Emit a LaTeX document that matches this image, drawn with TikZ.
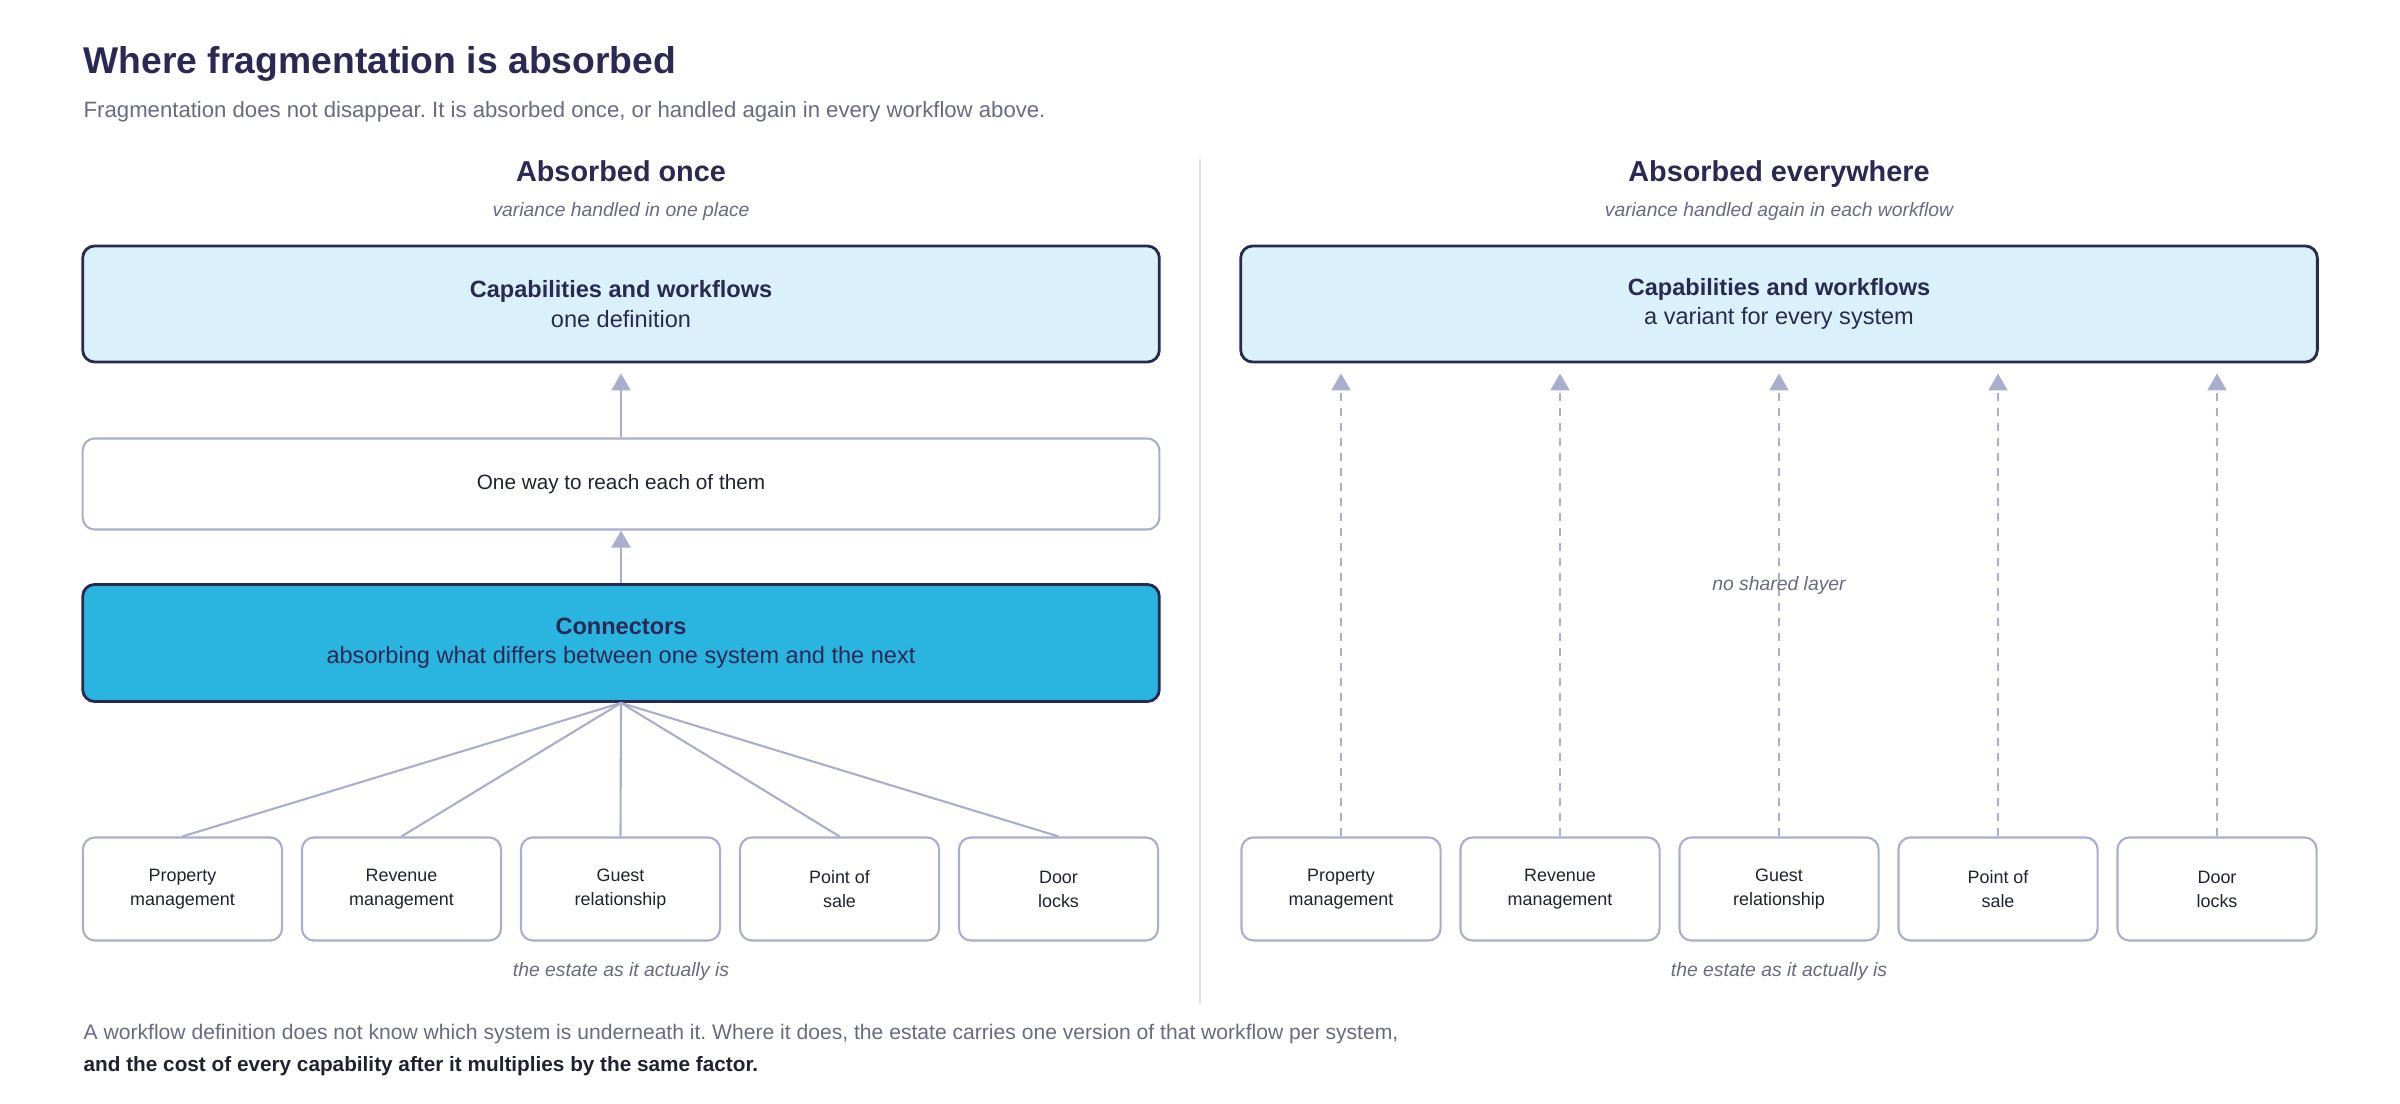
\documentclass[tikz,border=0pt]{standalone}
\usepackage{fontspec}
\setmainfont{Liberation Sans}
\usetikzlibrary{arrows.meta}
\definecolor{navy}{RGB}{42,41,84}
\definecolor{muted}{RGB}{104,106,132}
\definecolor{lav}{RGB}{170,174,206}
\definecolor{pale}{RGB}{218,241,251}
\definecolor{conncol}{RGB}{41,181,224}
\definecolor{ink}{RGB}{31,34,48}
\definecolor{rulecol}{RGB}{226,226,233}
\frenchspacing
\begin{document}
\begin{tikzpicture}[x=0.01cm,y=-0.01cm,
    every node/.style={inner sep=0pt},
    tier/.style={draw=navy,line width=0.8pt,rounded corners=0.12cm,minimum width=10.76cm,align=center,text=navy,font=\fontsize{6.7}{8.3}\selectfont},
    waybox/.style={draw=lav,line width=0.6pt,rounded corners=0.12cm,minimum width=10.76cm,minimum height=0.91cm,text=ink,font=\fontsize{5.9}{7}\selectfont},
    sys/.style={draw=lav,line width=0.6pt,rounded corners=0.12cm,minimum width=1.99cm,minimum height=1.03cm,align=center,text=ink,font=\fontsize{5.1}{6.8}\selectfont},
    wire/.style={draw=lav,line width=0.6pt},
    lift/.style={wire,-{Triangle[width=0.19cm,length=0.17cm]}},
    dashline/.style={dash pattern=on 0.08cm off 0.07cm},
    colhead/.style={anchor=base,text=navy,font=\fontsize{8.2}{9.8}\selectfont\bfseries},
    note/.style={anchor=base,text=muted,font=\fontsize{5.5}{6.6}\selectfont\itshape}]
    \useasboundingbox (0,0) rectangle (2400,1104);

    \node[anchor=base west,text=navy,font=\fontsize{10.6}{12.7}\selectfont\bfseries] (title) at (83,74) {Where fragmentation is absorbed};
    \node[anchor=base west,text=muted,font=\fontsize{6.3}{7.6}\selectfont] (sub) at (83,118) {Fragmentation does not disappear. It is absorbed once, or handled again in every workflow above.};

    \draw[rulecol,line width=0.4pt] (1200,159) -- (1200,1004);

    \node[colhead] (lhead) at (621,182) {Absorbed once};
    \node[note] (lnote) at (621,217) {variance handled in one place};
    \node[colhead] (rhead) at (1779,182) {Absorbed everywhere};
    \node[note] (rnote) at (1779,217) {variance handled again in each workflow};

    \node[tier,fill=pale,minimum height=1.16cm] (lcap) at (621,304) {\textbf{Capabilities and workflows}\\one definition};
    \node[waybox] (lway) at (621,484) {One way to reach each of them};
    \node[tier,fill=conncol,minimum height=1.17cm] (lconn) at (621,643) {\textbf{Connectors}\\absorbing what differs between one system and the next};
    \node[tier,fill=pale,minimum height=1.16cm] (rcap) at (1779,304) {\textbf{Capabilities and workflows}\\a variant for every system};

    \draw[lift,shorten >=0.1cm] (lway) -- (lcap);
    \draw[lift] (lconn) -- (lway);

    \foreach \sysname [count=\i] in {{Property\\management},{Revenue\\management},{Guest\\relationship},{Point of\\sale},{Door\\locks}}{
        \node[sys] (ls\i) at ({182.5+219*(\i-1)},889) {\sysname};
        \node[sys] (rs\i) at ({1341+219*(\i-1)},889) {\sysname};
        \draw[wire] (ls\i.north) -- (lconn.south);
        \draw[lift,dashline,shorten >=0.1cm] (rs\i.north) -- (rs\i.north |- rcap.south);
    }

    \node[note] (shared) at (1779,591) {no shared layer};
    \node[note] (lestate) at (621,976) {the estate as it actually is};
    \node[note] (restate) at (1779,976) {the estate as it actually is};

    \node[anchor=base west,text=muted,font=\fontsize{6}{7.2}\selectfont] (foot) at (83,1040) {A workflow definition does not know which system is underneath it. Where it does, the estate carries one version of that workflow per system,};
    \node[anchor=base west,text=ink,font=\fontsize{5.9}{7.1}\selectfont\bfseries] (footbold) at (83,1071) {and the cost of every capability after it multiplies by the same factor.};
\end{tikzpicture}
\end{document}
